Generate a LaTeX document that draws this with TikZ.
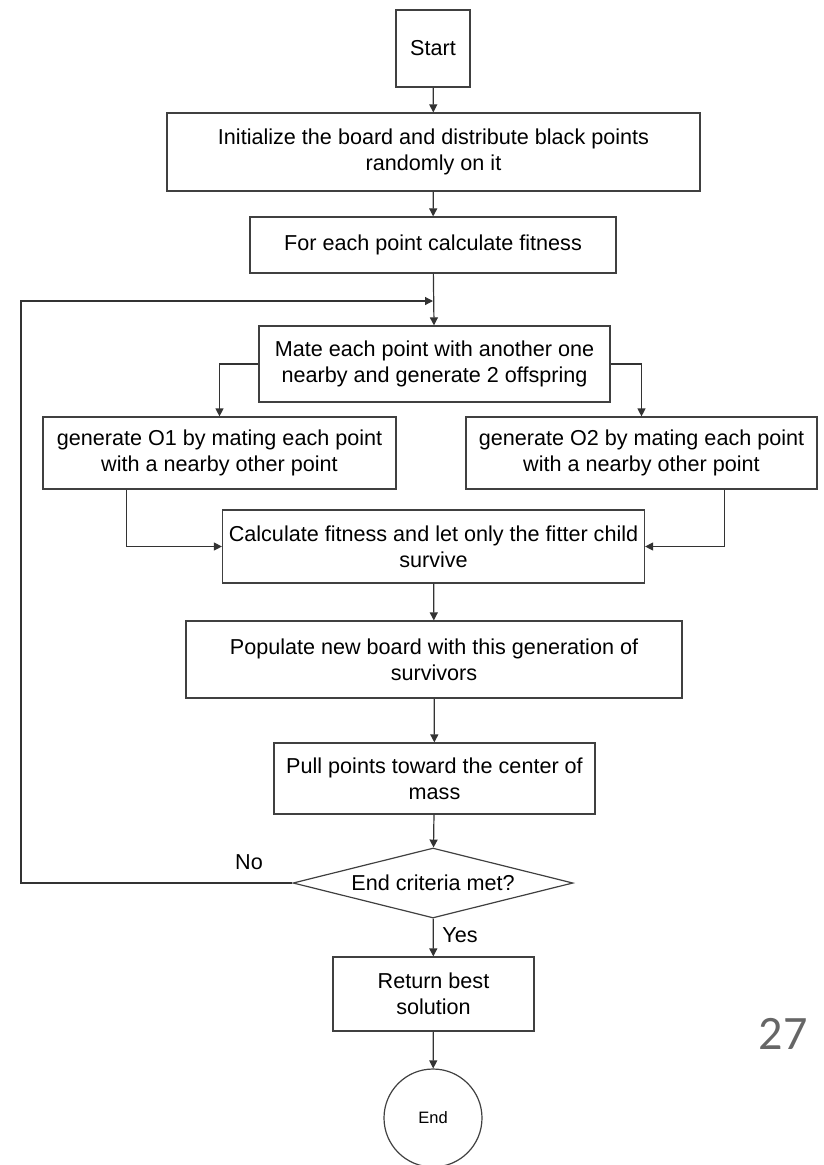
\documentclass[tikz,border=0pt]{standalone}
\usepackage{fontspec}
\setmainfont{Liberation Sans}
\newfontfamily\pagenumfont{Carlito}
\usetikzlibrary{shapes.geometric,arrows.meta}

\begin{document}
\begin{tikzpicture}[x=1pt,y=-1pt,
        box/.style={draw=black!75,line width=1.2pt,align=center,inner sep=0pt,
            font={\fontsize{21.6}{26}\selectfont}},
        label/.style={font={\fontsize{21.6}{26}\selectfont}},
        link/.style={draw=black!80,line width=1.2pt,-{Triangle[length=8pt,width=8pt]}}]
        \useasboundingbox (0,0) rectangle (823,1165);
        \node[box,minimum width=74pt,minimum height=77pt] (start) at (433,48.5) {Start};
        \node[box,minimum width=533pt,minimum height=78pt] (init) at (433.5,152) {Initialize the board and distribute black points\\randomly on it};
        \node[box,minimum width=366pt,minimum height=56pt] (fit) at (433,245) {For each point calculate fitness};
        \node[box,minimum width=351pt,minimum height=76pt] (mate) at (434.5,364) {Mate each point with another one\\nearby and generate 2 offspring};
        \node[box,minimum width=353pt,minimum height=72pt] (o1) at (219.5,453) {generate O1 by mating each point\\with a nearby other point};
        \node[box,minimum width=351pt,minimum height=72pt] (o2) at (641.5,453) {generate O2 by mating each point\\with a nearby other point};
        \node[box,minimum width=422pt,minimum height=73pt] (calc) at (433.5,546.5) {Calculate fitness and let only the fitter child\\survive};
        \node[box,minimum width=496pt,minimum height=77pt] (pop) at (434,659.5) {Populate new board with this generation of\\survivors};
        \node[box,minimum width=321pt,minimum height=71pt] (pull) at (434.5,778.5) {Pull points toward the center of\\mass};
        \node[box,diamond,aspect=4,minimum width=280pt,minimum height=70pt] (dec) at (433,883) {End criteria met?};
        \node[box,minimum width=201pt,minimum height=74pt] (ret) at (433.5,994) {Return best\\solution};
        \node[box,circle,minimum size=98pt,font={\fontsize{16.5}{20}\selectfont}] (end) at (433,1118) {End};
        \node[label] (no) at (249,862) {No};
        \node[label] (yes) at (460,935) {Yes};
        \node[text=black!60,font={\pagenumfont\fontsize{48}{48}\selectfont}] (pagenum) at (783,1034) {27};
        \coordinate (back) at (433,301);
        \coordinate (loopcorner) at (21,301);
        \draw[link] (start) -- (init);
        \draw[link] (init) -- (fit);
        \draw[link] (fit) -- (mate);
        \draw[link] (mate.west) -| (o1.north);
        \draw[link] (mate.east) -| (o2.north);
        \draw[link] ([xshift=84pt]o1.south west) |- (calc.west);
        \draw[link] ([xshift=-93pt]o2.south east) |- (calc.east);
        \draw[link] (calc) -- (pop);
        \draw[link] (pop) -- (pull);
        \draw[link] (pull) -- (dec);
        \draw[link] (dec.west) -| (loopcorner) -- (back);
        \draw[link] (dec) -- (ret);
        \draw[link] (ret) -- (end);
\end{tikzpicture}
\end{document}
